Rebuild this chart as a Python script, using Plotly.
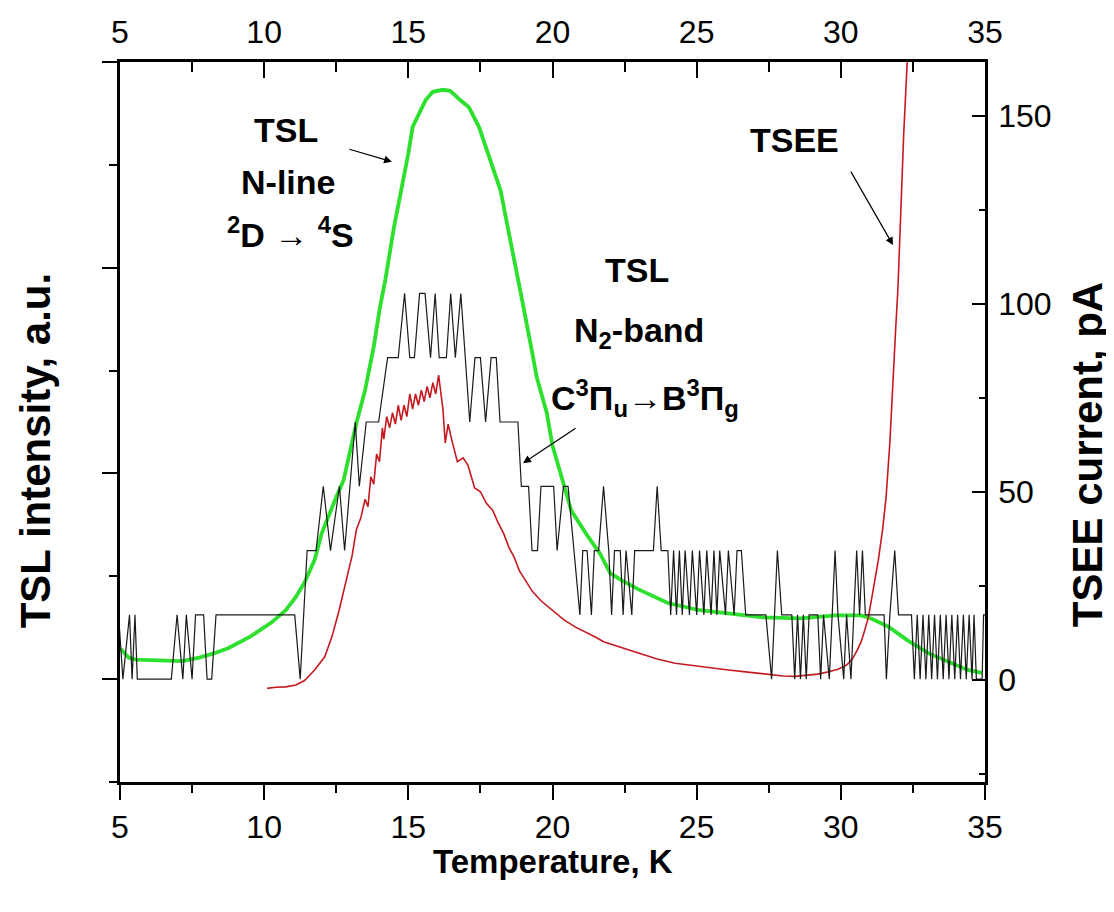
import plotly.graph_objects as go

# ---------------- data ----------------
# TSL N-line (green), left axis, arbitrary units
green_T = [5.0, 5.3, 5.55, 6.0, 6.8, 7.15, 7.75, 8.25, 8.75, 9.5, 10.25, 10.75, 11.1, 11.4,
           11.75, 12.0, 12.5, 12.75, 13.2, 13.5, 13.8, 14.0, 14.2, 14.5, 15.0, 15.15, 15.6,
           15.85, 16.2, 16.45, 16.8, 17.1, 17.45, 17.8, 18.2, 18.45, 18.7, 18.95, 19.3, 19.45,
           19.8, 20.0, 20.3, 20.65, 21.15, 21.65, 22.0, 22.4, 23.0, 24.0, 25.1, 26.1, 27.3,
           28.6, 29.8, 30.7, 31.05, 31.65, 32.3, 33.05, 33.8, 34.4, 34.9]
green_I = [0.30, 0.21, 0.19, 0.185, 0.185, 0.175, 0.21, 0.25, 0.30, 0.41, 0.55, 0.67, 0.80, 0.94,
           1.16, 1.42, 1.77, 1.93, 2.49, 2.81, 3.23, 3.59, 3.88, 4.39, 5.11, 5.37, 5.63,
           5.71, 5.73, 5.72, 5.63, 5.56, 5.37, 5.07, 4.75, 4.39, 4.05, 3.68, 3.17, 2.94,
           2.59, 2.27, 1.98, 1.64, 1.42, 1.22, 1.03, 0.96, 0.87, 0.74, 0.67, 0.64, 0.60,
           0.59, 0.62, 0.62, 0.59, 0.51, 0.38, 0.25, 0.16, 0.09, 0.06]

# TSL N2-band (black), photon-count levels
black_T = [4.95, 5.1, 5.33, 5.42, 5.52, 5.6, 6.78, 6.98, 7.18, 7.3, 7.5, 7.62, 7.9, 8.02, 8.18,
           8.33, 11.06, 11.25, 11.49, 11.8, 12.05, 12.3, 12.61, 12.79, 13.16, 13.3, 13.54,
           13.97, 14.28, 14.65, 14.87, 15.05, 15.21, 15.39, 15.58, 15.77, 15.93, 16.07, 16.32,
           16.47, 16.63, 16.82, 17.13, 17.31, 17.5, 17.68, 17.87, 18.05, 18.18, 18.8, 18.92,
           19.17, 19.29, 19.48, 19.6, 20.04, 20.16, 20.38, 20.54, 20.75, 20.95, 21.05, 21.2,
           21.35, 21.45, 21.6, 21.77, 21.95, 22.05, 22.15, 22.35, 22.45, 22.55, 22.75, 22.85,
           23.5, 23.63, 23.77, 24.0, 24.1, 24.2, 24.3, 24.4, 24.5, 24.6, 24.75, 24.85, 25.0,
           25.1, 25.25, 25.35, 25.5, 25.6, 25.7, 25.8, 26.0, 26.1, 26.3, 26.4, 26.55, 26.7,
           27.4, 27.6, 27.8, 27.95, 28.3, 28.4, 28.5, 28.6, 28.7, 28.8, 28.9, 29.2, 29.3,
           29.4, 29.6, 29.7, 29.8, 29.9, 30.1, 30.2, 30.35, 30.45, 30.55, 30.65, 30.75, 30.85,
           31.05, 31.5, 31.58, 31.7, 31.87, 32.0, 32.45, 32.55, 32.65, 32.75, 32.85, 32.95,
           33.05, 33.15, 33.25, 33.35, 33.45, 33.55, 33.65, 33.75, 33.85, 33.95, 34.05, 34.15,
           34.25, 34.35, 34.45, 34.55, 34.62, 34.7, 34.9, 34.95, 35.0]
black_lvl = [1, 0, 1, 0, 1, 0, 0, 1, 0, 1, 0, 1, 1, 0, 0,
             1, 1, 0, 2, 2, 3, 2, 3, 2, 4, 3, 4,
             4, 5, 5, 6, 5, 5, 6, 6, 5, 6, 5, 5,
             6, 5, 6, 4, 5, 5, 4, 5, 5, 4, 4, 3,
             3, 2, 2, 3, 3, 2, 3, 3, 2, 1, 2, 2,
             1, 2, 2, 3, 2, 1, 2, 2, 1, 2, 1, 2,
             2, 3, 2, 2, 1, 2, 1, 2, 1, 2, 1, 2, 1,
             2, 1, 2, 1, 2, 1, 2, 1, 2, 1, 2, 2, 1,
             1, 0, 2, 1, 1, 0, 1, 0, 1, 0, 1, 1, 0,
             1, 0, 1, 2, 1, 0, 1, 0, 1, 2, 1, 2, 1,
             1, 1, 0, 1, 2, 1, 1, 0, 1, 0, 1, 0,
             1, 0, 1, 0, 1, 0, 1, 0, 1, 0, 1, 0,
             1, 0, 1, 0, 1, 0, 0, 1, 1]
black_step = 0.625  # intensity of one level on the TSL axis

# TSEE current (red), right axis, pA
red_T = [10.1, 10.4, 10.75, 11.1, 11.4, 11.75, 12.1, 12.35, 12.6, 12.85, 13.05, 13.2, 13.35,
         13.5, 13.6, 13.7, 13.8, 13.9, 14.0, 14.1, 14.15, 14.25, 14.35, 14.45, 14.55, 14.65,
         14.75, 14.85, 14.95, 15.05, 15.15, 15.25, 15.35, 15.45, 15.55, 15.65, 15.75, 15.85,
         15.95, 16.05, 16.12, 16.2, 16.28, 16.38, 16.5, 16.7, 16.9, 17.07, 17.3, 17.5, 17.7,
         17.93, 18.1, 18.3, 18.5, 18.67, 18.85, 19.05, 19.3, 19.6, 19.92, 20.4, 20.8, 21.15,
         21.5, 21.77, 22.4, 23.0, 23.6, 24.25, 24.9, 25.5, 26.1, 26.7, 27.3, 28.0, 28.4, 28.8,
         29.2, 29.58, 29.9, 30.2, 30.4, 30.57, 30.7, 30.8, 30.95, 31.06, 31.2, 31.3, 31.45,
         31.57, 31.7, 31.8, 31.9, 31.98, 32.08, 32.18, 32.3, 32.35]
red_pA = [-2.3, -2.0, -1.9, -1.4, -0.2, 2.6, 6.1, 11.4, 18.5, 27, 33, 40, 43,
          48, 46, 54, 52, 60, 58, 67, 64, 70, 67, 71, 68, 73,
          69, 73, 70, 76, 72, 76, 73, 77, 74, 78, 75, 79,
          76, 81, 77, 72, 63, 68, 64, 58, 59, 57, 51, 50, 47,
          45, 42, 39, 35, 32.6, 29, 26.5, 23.5, 21, 19, 15.9, 14, 12.7,
          11.3, 10.1, 8.5, 7.0, 5.6, 4.4, 3.7, 3.1, 2.6, 2.1, 1.6, 1.0, 0.9, 1.2,
          1.5, 2.1, 2.8, 3.9, 5.5, 7.9, 10, 12.4, 16.5, 21.2, 27, 31.8, 40,
          48.6, 63, 79.7, 93, 104, 125, 145, 164, 172]

x_ticks = [5, 10, 15, 20, 25, 30, 35]
right_ticks = [0, 50, 100, 150]

FONT = "Liberation Sans, Arial, sans-serif"

fig = go.Figure()
fig.add_trace(go.Scatter(x=black_T, y=[v * black_step for v in black_lvl], mode="lines",
                         line=dict(color="#1a1a1a", width=1.2), xaxis="x2", yaxis="y",
                         showlegend=False))
fig.add_trace(go.Scatter(x=red_T, y=red_pA, mode="lines",
                         line=dict(color="#c41a1f", width=1.6), xaxis="x", yaxis="y2",
                         showlegend=False))
fig.add_trace(go.Scatter(x=green_T, y=green_I, mode="lines",
                         line=dict(color="#2ee02e", width=3.8), xaxis="x", yaxis="y",
                         showlegend=False))

axis_common = dict(showline=True, linecolor="black", linewidth=2.5, showgrid=False,
                   zeroline=False, tickcolor="black", tickwidth=2, automargin=False,
                   tickfont=dict(family=FONT, size=32, color="black"))

fig.update_layout(
    width=1106, height=904,
    margin=dict(l=112, r=129, t=54, b=130),
    paper_bgcolor="white", plot_bgcolor="white",
    xaxis=dict(range=[5, 35], tickvals=x_ticks, ticks="outside", ticklen=15, anchor="y",
               minor=dict(dtick=2.5, tick0=5, ticks="outside", ticklen=8, tickcolor="black", tickwidth=2),
               **axis_common),
    xaxis2=dict(range=[5, 35], overlaying="x", side="top", anchor="y", tickvals=x_ticks,
                ticks="inside", ticklen=16, ticklabelstandoff=3,
                minor=dict(dtick=2.5, tick0=5, ticks="inside", ticklen=10, tickcolor="black", tickwidth=2),
                **axis_common),
    yaxis=dict(range=[-1, 6], tickvals=[0, 2, 4, 6], showticklabels=False, ticks="outside",
               ticklen=15, anchor="x",
               minor=dict(dtick=1, tick0=0, ticks="outside", ticklen=8, tickcolor="black", tickwidth=2),
               **axis_common),
    yaxis2=dict(range=[-27.2, 164.3], overlaying="y", side="right", anchor="x",
                tickvals=right_ticks, ticks="inside", ticklen=13, ticklabelstandoff=4,
                minor=dict(dtick=25, tick0=0, ticks="inside", ticklen=6, tickcolor="black", tickwidth=2),
                **axis_common),
)

ann_font = dict(family=FONT, size=34, color="black")
texts = [
    ("<b>TSL</b>", 10.76, 5.34),
    ("<b>N-line</b>", 10.83, 4.83),
    ("<b><sup>2</sup>D → <sup>4</sup>S</b>", 10.9, 4.34),
    ("<b>TSEE</b>", 28.41, 5.24),
    ("<b>TSL</b>", 22.93, 3.98),
    ("<b>N<sub>2</sub>-band</b>", 23.0, 3.37),
    ("<b>C<sup>3</sup>Π<sub>u</sub>→B<sup>3</sup>Π<sub>g</sub></b>", 23.2, 2.73),
]
for t, x, y in texts:
    fig.add_annotation(text=t, x=x, y=y, xref="x", yref="y", showarrow=False, font=ann_font)

arrows = [(14.43, 5.03, -44, -13), (31.81, 4.22, -43, -75), (18.98, 2.10, 54, -36)]
for x, y, ax, ay in arrows:
    fig.add_annotation(text="", x=x, y=y, xref="x", yref="y", ax=ax, ay=ay, axref="pixel",
                       ayref="pixel", showarrow=True, arrowhead=2, arrowsize=1.3, arrowwidth=1.2,
                       arrowcolor="black")

title_font_x = dict(family=FONT, size=33, color="black")
title_font_y = dict(family=FONT, size=42, color="black")
fig.add_annotation(text="<b>Temperature, K</b>", x=0.5, y=-0.111, xref="paper", yref="paper",
                   showarrow=False, font=title_font_x, xanchor="center", yanchor="middle")
fig.add_annotation(text="<b>TSL intensity, a.u.</b>", x=-0.098, y=0.461, xref="paper", yref="paper",
                   showarrow=False, font=title_font_y, textangle=-90, xanchor="center", yanchor="middle")
fig.add_annotation(text="<b>TSEE current, pA</b>", x=1.118, y=0.454, xref="paper", yref="paper",
                   showarrow=False, font=title_font_y, textangle=-90, xanchor="center", yanchor="middle")

fig.write_html("out.html")
